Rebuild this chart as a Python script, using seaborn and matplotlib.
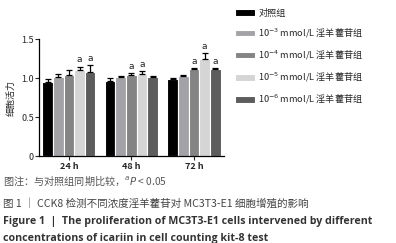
import numpy as np
import pandas as pd
import matplotlib
matplotlib.use("Agg")
import matplotlib.pyplot as plt
import seaborn as sns

times = ["24 h", "48 h", "72 h"]
groups = ["对照组",
          "10$^{-3}$ mmol/L 淫羊藿苷组",
          "10$^{-4}$ mmol/L 淫羊藿苷组",
          "10$^{-5}$ mmol/L 淫羊藿苷组",
          "10$^{-6}$ mmol/L 淫羊藿苷组"]
# rows: groups, columns: times
means = [[0.955, 0.962, 0.985],
         [1.020, 1.012, 1.030],
         [1.040, 1.038, 1.118],
         [1.105, 1.054, 1.250],
         [1.080, 1.010, 1.114]]
errs = [[0.030, 0.035, 0.012],
        [0.035, 0.020, 0.008],
        [0.070, 0.025, 0.015],
        [0.045, 0.040, 0.070],
        [0.085, 0.022, 0.016]]
sig = [[0, 0, 0],
       [0, 0, 0],
       [0, 1, 1],
       [1, 1, 1],
       [1, 0, 1]]
colors = ["#000000", "#a2a1a8", "#848484", "#d5d5d5", "#5c5c5c"]

rows = []
for gi, g in enumerate(groups):
    for ti, t in enumerate(times):
        rows.append({"time": t, "group": g, "val": means[gi][ti],
                     "err": errs[gi][ti], "sig": sig[gi][ti]})
df = pd.DataFrame(rows)

sns.set_style("ticks")
plt.rcParams['font.family'] = ['Noto Sans CJK SC', 'DejaVu Sans']
plt.rcParams['mathtext.fontset'] = 'dejavusans'

fig = plt.figure(figsize=(3.96, 2.43), dpi=100)
ax = fig.add_axes([0.0997, 0.358, 0.466, 0.480])

sns.barplot(data=df, x="time", y="val", hue="group", hue_order=groups,
            order=times, palette=colors, width=0.85, errorbar=None,
            edgecolor="white", linewidth=0.8, ax=ax, legend=True)

bar_containers = list(ax.containers)
# error bars and significance marks
for gi, cont in enumerate(bar_containers):
    sub = df[df["group"] == groups[gi]].set_index("time").loc[times]
    xs = [p.get_x() + p.get_width() / 2 for p in cont.patches]
    ys = sub["val"].values
    es = sub["err"].values
    ax.errorbar(xs, ys, yerr=[np.zeros_like(es), es], fmt="none",
                ecolor="black", elinewidth=0.9, capsize=2.0, capthick=0.9)
    for x, y, e, s in zip(xs, ys, es, sub["sig"].values):
        if s:
            ax.text(x, y + e + 0.03, "a", ha="center", va="bottom",
                    fontsize=6.5, family="DejaVu Sans", color="#222222")

ax.set_xlim(-0.47, 2.48)
ax.set_ylim(0, 1.5)
ax.set_yticks([0, 0.5, 1.0, 1.5])
ax.set_yticklabels(["0", "0.5", "1.0", "1.5"])
ax.set_xlabel("")
ax.set_ylabel("细胞活力", fontsize=6.5, labelpad=4)
ax.tick_params(axis="y", labelsize=6.5, length=3, width=0.8, pad=1)
ax.tick_params(axis="x", labelsize=6.5, length=3, width=0.8, pad=1)
for lab in ax.get_xticklabels():
    lab.set_fontweight("bold")
for sp in ["top", "right"]:
    ax.spines[sp].set_visible(False)
for sp in ["left", "bottom"]:
    ax.spines[sp].set_linewidth(0.9)
    ax.spines[sp].set_color("black")

handles, labels = ax.get_legend_handles_labels()
ax.legend(handles, labels, loc="upper left", bbox_to_anchor=(0.585, 0.98),
          bbox_transform=fig.transFigure, frameon=False, fontsize=6.6,
          handlelength=2.1, handleheight=0.7, labelspacing=0.95,
          handletextpad=0.4, borderaxespad=0)

fig.text(0.008, 0.255, "图注：与对照组同期比较，$^{a}$$\\it{P}$ < 0.05",
         fontsize=7.3, color="#555555", va="center")
fig.text(0.008, 0.165, "图 1 ｜ CCK8 检测不同浓度淫羊藿苷对 MC3T3-E1 细胞增殖的影响",
         fontsize=7.6, color="#444444", va="center")
fig.text(0.008, 0.09, "Figure 1  |  The proliferation of MC3T3-E1 cells intervened by different",
         fontsize=7.7, color="#333333", fontweight="bold", va="center",
         family=["Open Sans", "DejaVu Sans"])
fig.text(0.008, 0.02, "concentrations of icariin in cell counting kit-8 test",
         fontsize=7.7, color="#333333", fontweight="bold", va="center",
         family=["Open Sans", "DejaVu Sans"])

fig.savefig("out.png", dpi=100)
